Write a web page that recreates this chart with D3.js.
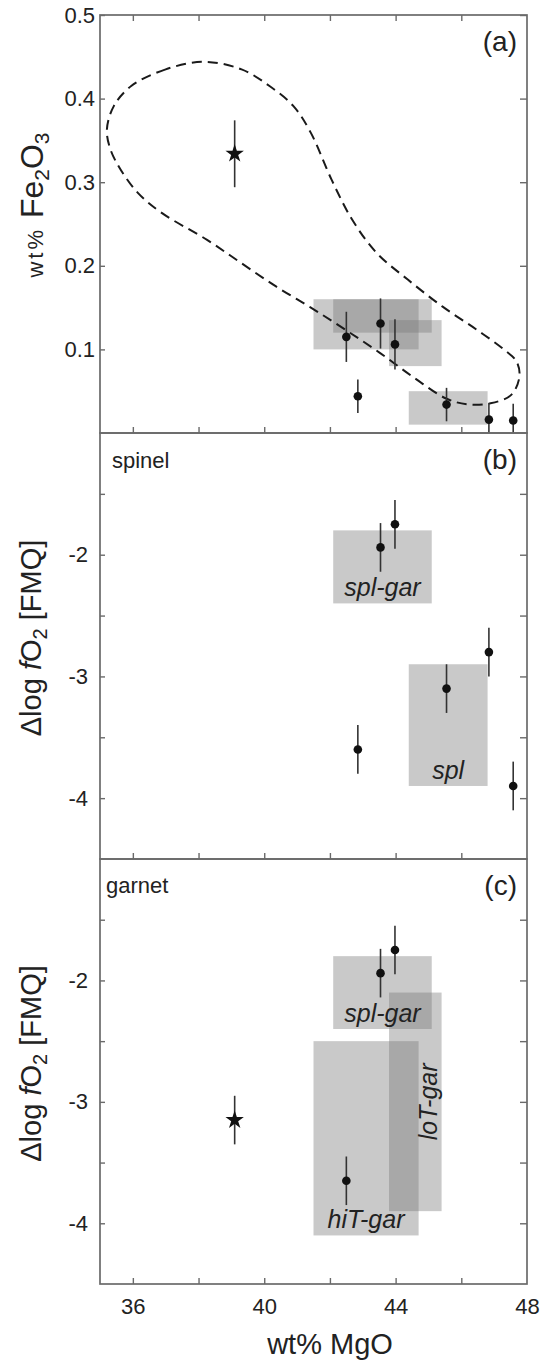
<!DOCTYPE html>
<html>
<head>
<meta charset="utf-8">
<script src="https://cdn.jsdelivr.net/npm/d3@7"></script>
<style>
  body { margin: 0; background: #fff; }
  svg text { font-family: "Liberation Sans", Arial, sans-serif; fill: #222; }
</style>
</head>
<body>
<div id="chart"></div>
<script>
// ---- data ----
// samples shown in panel (a): MgO vs Fe2O3
var fe2o3Mgo = [42.5, 43.54, 43.98, 42.85, 45.55, 46.84, 47.58];
var fe2o3Val = [0.115, 0.131, 0.106, 0.044, 0.034, 0.016, 0.015];
var fe2o3Err = [0.03, 0.03, 0.03, 0.02, 0.02, 0.02, 0.02];

// panel (b) spinel
var spinelMgo = [43.54, 43.98, 42.85, 45.55, 46.84, 47.58];
var spinelDfo2 = [-1.94, -1.75, -3.6, -3.1, -2.8, -3.9];
var spinelErr = [0.2, 0.2, 0.2, 0.2, 0.2, 0.2];

// panel (c) garnet
var garnetMgo = [43.54, 43.98, 42.5];
var garnetDfo2 = [-1.94, -1.75, -3.65];
var garnetErr = [0.2, 0.2, 0.2];

// star sample
var starMgo = 39.1;
var starFe2o3 = 0.334, starFe2o3Err = 0.04;
var starDfo2 = -3.15, starDfo2Err = 0.2;

// shaded fields
var fieldNames = ["spl-gar", "spl", "hiT-gar", "loT-gar"];
var fieldMgo = [[42.1, 45.1], [44.4, 46.8], [41.5, 44.7], [43.8, 45.4]];
var fieldFe2o3 = [[0.12, 0.16], [0.01, 0.05], [0.10, 0.16], [0.08, 0.135]];
var fieldDfo2 = [[-2.4, -1.8], [-3.9, -2.9], [-4.1, -2.5], [-3.9, -2.1]];

// dashed envelope in panel (a)
var envMgo = [38.16, 37.0, 35.95, 35.42, 35.21, 35.32, 35.63, 36.16, 36.89, 38.26, 39.31, 40.37,
  41.42, 42.47, 43.53, 44.58, 45.52, 46.16, 46.89, 47.52, 47.77, 47.68, 47.31, 46.47, 45.42,
  44.37, 43.42, 42.68, 42.05, 41.42, 40.89, 40.16, 39.31];
var envFe2o3 = [0.444, 0.435, 0.415, 0.391, 0.363, 0.339, 0.315, 0.287, 0.263, 0.231, 0.203, 0.175,
  0.150, 0.1235, 0.0956, 0.0656, 0.0416, 0.0344, 0.0356, 0.0456, 0.0675, 0.0855, 0.0995, 0.1235, 0.1514,
  0.1835, 0.2155, 0.255, 0.303, 0.359, 0.391, 0.415, 0.435];

var xTicks = [36, 38, 40, 42, 44, 46];
var xLabels = [36, 40, 44, 48];
var fe2o3Ticks = [0.1, 0.2, 0.3, 0.4, 0.5];
var dfo2Ticks = [-1.5, -2, -2.5, -3, -3.5, -4];
var dfo2Labels = [-2, -3, -4];

// ---- layout ----
var width = 541, height = 1362;
var left = 100, right = 527;
var frameColor = "#6a6a6a";

var svg = d3.select("#chart").append("svg")
  .attr("width", width)
  .attr("height", height);

var x = d3.scaleLinear().domain([35, 48]).range([left, right]);

var panels = [
  {id: "a", top: 15, bottom: 433, domain: [0, 0.5]},
  {id: "b", top: 433, bottom: 859, domain: [-4.5, -1]},
  {id: "c", top: 859, bottom: 1284, domain: [-4.5, -1]}
];
panels.forEach(function(p) {
  p.y = d3.scaleLinear().domain(p.domain).range([p.bottom, p.top]).clamp(true);
});

function drawFields(p, idx, vals) {
  var g = svg.append("g");
  idx.forEach(function(i) {
    g.append("rect")
      .attr("x", x(fieldMgo[i][0]))
      .attr("y", p.y(vals[i][1]))
      .attr("width", x(fieldMgo[i][1]) - x(fieldMgo[i][0]))
      .attr("height", p.y(vals[i][0]) - p.y(vals[i][1]))
      .attr("fill", "#777")
      .attr("fill-opacity", 0.4);
  });
}

function drawPoints(p, xs, ys, errs) {
  var g = svg.append("g");
  xs.forEach(function(d, i) {
    g.append("line")
      .attr("x1", x(d)).attr("x2", x(d))
      .attr("y1", p.y(ys[i] - errs[i]))
      .attr("y2", p.y(ys[i] + errs[i]))
      .attr("stroke", "#333")
      .attr("stroke-width", 1.6);
    g.append("circle")
      .attr("cx", x(d))
      .attr("cy", p.y(ys[i]))
      .attr("r", 4.3)
      .attr("fill", "#111");
  });
}

function drawStar(p, v, e) {
  svg.append("line")
    .attr("x1", x(starMgo)).attr("x2", x(starMgo))
    .attr("y1", p.y(v - e)).attr("y2", p.y(v + e))
    .attr("stroke", "#333")
    .attr("stroke-width", 1.6);
  svg.append("path")
    .attr("d", d3.symbol().type(d3.symbolStar).size(105)())
    .attr("transform", "translate(" + x(starMgo) + "," + p.y(v) + ")")
    .attr("fill", "#111");
}

function drawFrame(p, isFirst, isLast) {
  var g = svg.append("g");
  // inward ticks
  g.append("g")
    .attr("transform", "translate(0," + p.bottom + ")")
    .call(d3.axisBottom(x).tickValues(xTicks).tickSize(-6).tickFormat(""));
  if (isFirst) {
    g.append("g")
      .attr("transform", "translate(0," + p.top + ")")
      .call(d3.axisTop(x).tickValues(xTicks).tickSize(-6).tickFormat(""));
  }
  var yt = p.id == "a" ? fe2o3Ticks : dfo2Ticks;
  g.append("g")
    .attr("transform", "translate(" + left + ",0)")
    .call(d3.axisLeft(p.y).tickValues(yt).tickSize(-5).tickFormat(""));
  g.append("g")
    .attr("transform", "translate(" + right + ",0)")
    .call(d3.axisRight(p.y).tickValues(yt).tickSize(-7).tickFormat(""));

  // tick labels
  var lab;
  if (p.id == "a") {
    lab = g.append("g")
      .attr("transform", "translate(" + left + ",0)")
      .call(d3.axisLeft(p.y).tickValues(fe2o3Ticks).tickSize(0).tickPadding(5)
        .tickFormat(d3.format(".1f")));
  } else {
    lab = g.append("g")
      .attr("transform", "translate(" + left + ",0)")
      .call(d3.axisLeft(p.y).tickValues(dfo2Labels).tickSize(0).tickPadding(12)
        .tickFormat(function(d) { return "-" + Math.abs(d); }));
  }
  lab.selectAll("text").attr("font-size", 22).attr("fill", "#222");
  if (isLast) {
    var bl = g.append("g")
      .attr("transform", "translate(0," + p.bottom + ")")
      .call(d3.axisBottom(x).tickValues(xLabels).tickSize(0).tickPadding(14));
    bl.selectAll("text").attr("font-size", 22).attr("fill", "#222");
  }
  g.selectAll(".domain").remove();
  g.selectAll(".tick line").attr("stroke", frameColor).attr("stroke-width", 1.4);
  g.selectAll("text").attr("font-family", null);

  g.append("rect")
    .attr("x", left).attr("y", p.top)
    .attr("width", right - left).attr("height", p.bottom - p.top)
    .attr("fill", "none")
    .attr("stroke", frameColor)
    .attr("stroke-width", 1.7);

  g.append("text")
    .attr("x", 517).attr("y", p.top + 36)
    .attr("text-anchor", "end")
    .attr("font-size", 28)
    .text("(" + p.id + ")");
}

function fieldLabel(p, i, vals) {
  svg.append("text")
    .attr("x", x((fieldMgo[i][0] + fieldMgo[i][1]) / 2))
    .attr("y", p.y(vals[i][0]) - 7)
    .attr("text-anchor", "middle")
    .attr("font-size", 25)
    .attr("font-style", "italic")
    .text(fieldNames[i]);
}

// ---- panel (a) ----
var pa = panels[0];
drawFields(pa, [0, 1, 2, 3], fieldFe2o3);

var envPts = envMgo.map(function(d, i) { return [x(d), pa.y(envFe2o3[i])]; });
svg.append("path")
  .attr("d", d3.line().curve(d3.curveCatmullRomClosed)(envPts))
  .attr("fill", "none")
  .attr("stroke", "#1a1a1a")
  .attr("stroke-width", 2)
  .attr("stroke-dasharray", "10,6");

drawPoints(pa, fe2o3Mgo, fe2o3Val, fe2o3Err);
drawStar(pa, starFe2o3, starFe2o3Err);
drawFrame(pa, true, false);

var la = svg.append("text")
  .attr("transform", "translate(43,205) rotate(-90)")
  .attr("text-anchor", "middle");
la.append("tspan").attr("font-size", 22).attr("letter-spacing", 3).text("wt%");
la.append("tspan").attr("font-size", 32).text(" Fe");
la.append("tspan").attr("font-size", 21).attr("dy", 6).text("2");
la.append("tspan").attr("font-size", 32).attr("dy", -6).text("O");
la.append("tspan").attr("font-size", 21).attr("dy", 6).text("3");

// ---- panel (b) ----
var pb = panels[1];
drawFields(pb, [0, 1], fieldDfo2);
fieldLabel(pb, 0, fieldDfo2);
fieldLabel(pb, 1, fieldDfo2);
drawPoints(pb, spinelMgo, spinelDfo2, spinelErr);
drawFrame(pb, false, false);
svg.append("text")
  .attr("x", 112).attr("y", pb.top + 35)
  .attr("font-size", 22)
  .text("spinel");

// ---- panel (c) ----
var pc = panels[2];
drawFields(pc, [0, 2, 3], fieldDfo2);
fieldLabel(pc, 0, fieldDfo2);
fieldLabel(pc, 2, fieldDfo2);
svg.append("text")
  .attr("transform", "translate(" + (x(fieldMgo[3][1]) - 5) + "," +
    pc.y((fieldDfo2[3][0] + fieldDfo2[3][1]) / 2) + ") rotate(-90)")
  .attr("text-anchor", "middle")
  .attr("font-size", 25)
  .attr("font-style", "italic")
  .text(fieldNames[3]);
drawPoints(pc, garnetMgo, garnetDfo2, garnetErr);
drawStar(pc, starDfo2, starDfo2Err);
drawFrame(pc, false, true);
svg.append("text")
  .attr("x", 106).attr("y", pc.top + 34)
  .attr("font-size", 22)
  .text("garnet");

// y labels for b and c
[pb, pc].forEach(function(p) {
  var t = svg.append("text")
    .attr("transform", "translate(41," + ((p.top + p.bottom) / 2 - 8) + ") rotate(-90)")
    .attr("text-anchor", "middle")
    .attr("font-size", 29);
  t.append("tspan").text("\u0394log ");
  t.append("tspan").attr("font-style", "italic").text("f");
  t.append("tspan").text("O");
  t.append("tspan").attr("font-size", 20).attr("dy", 6).text("2");
  t.append("tspan").attr("dy", -6).text(" [FMQ]");
});

// x label
svg.append("text")
  .attr("x", 330).attr("y", 1354)
  .attr("text-anchor", "middle")
  .attr("font-size", 29)
  .text("wt% MgO");
</script>
</body>
</html>
